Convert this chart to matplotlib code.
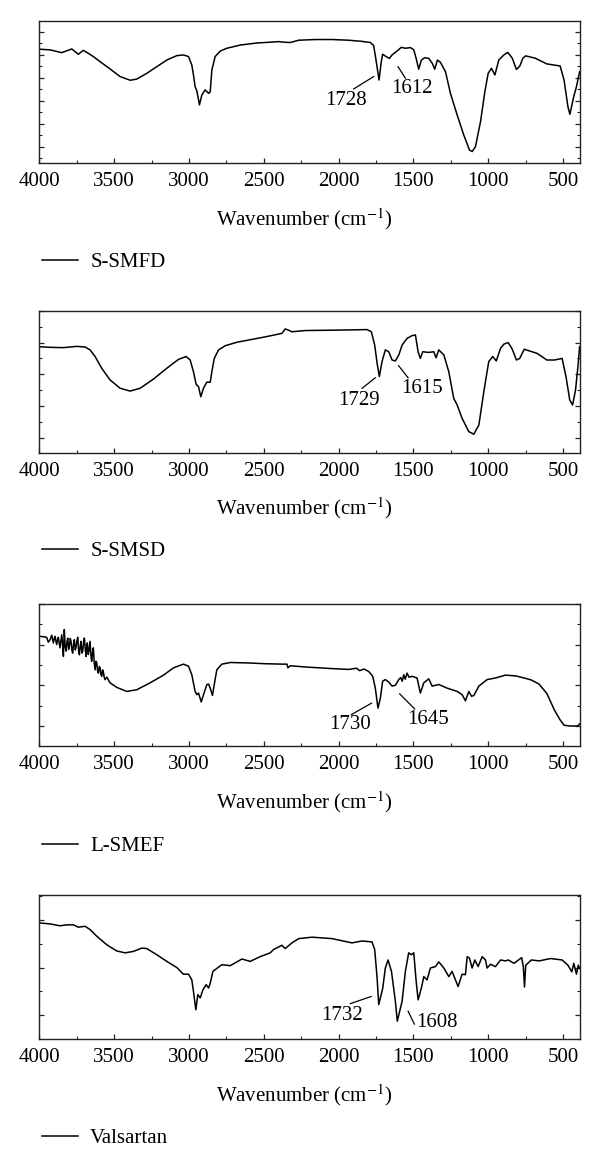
import matplotlib
matplotlib.use("Agg")
import matplotlib.pyplot as plt
from matplotlib.ticker import MultipleLocator, NullFormatter

plt.rcParams['font.family'] = ['Liberation Serif', 'DejaVu Serif']
plt.rcParams['mathtext.fontset'] = 'stix'

# ---- FTIR spectra (wavenumber cm-1, transmittance a.u.) ----
smfd_wn = [4000, 3928, 3850, 3783, 3739, 3706, 3672, 3639, 3594, 3527, 3460, 3393, 3349, 3282,
           3215, 3148, 3081, 3037, 3003, 2981, 2970, 2959, 2947, 2930, 2914, 2892, 2869, 2858,
           2847, 2825, 2791, 2747, 2657, 2546, 2490, 2401, 2357, 2323, 2267, 2156, 2044, 1933,
           1844, 1788, 1766, 1752, 1730, 1715, 1706, 1683, 1661, 1643, 1610, 1581, 1554, 1520,
           1498, 1482, 1465, 1447, 1425, 1398, 1375, 1358, 1340, 1320, 1286, 1253, 1208, 1164,
           1126, 1108, 1086, 1052, 1023, 1001, 979, 956, 930, 896, 870, 840, 812, 790, 769, 751,
           687, 609, 520, 494, 468, 455, 429, 411, 390]
smfd_t = [52.4, 52.1, 50.9, 52.5, 50.2, 51.9, 50.6, 49.2, 47.0, 43.8, 40.5, 38.9, 39.4, 41.9,
          44.8, 47.7, 49.6, 49.9, 49.2, 45.5, 41.2, 36.1, 34.2, 28.2, 32.5, 34.7, 33.2, 33.9,
          43.4, 49.2, 51.6, 52.8, 54.2, 55.1, 55.3, 55.7, 55.4, 55.3, 56.3, 56.6, 56.6, 56.3,
          55.8, 55.3, 54.0, 48.4, 39.0, 47.0, 50.2, 49.2, 48.4, 49.9, 51.6, 53.2, 52.8, 53.1,
          52.1, 48.4, 43.7, 47.7, 48.7, 48.4, 46.3, 43.7, 47.7, 46.7, 42.6, 33.2, 23.8, 15.1,
          8.6, 7.9, 10.0, 20.9, 33.9, 41.9, 44.1, 41.2, 47.7, 49.9, 51.0, 48.5, 43.6, 45.0, 48.5, 49.5,
          48.5, 46.0, 45.1, 39.0, 27.4, 24.1, 31.8, 36.1, 42.6]

smsd_wn = [4000, 3928, 3839, 3750, 3694, 3661, 3627, 3583, 3527, 3460, 3393, 3326, 3237, 3148,
           3070, 3019, 2992, 2970, 2952, 2936, 2921, 2903, 2881, 2858, 2847, 2831, 2802, 2758,
           2680, 2546, 2490, 2379, 2357, 2334, 2312, 2223, 2044, 1911, 1810, 1781, 1759, 1743,
           1728, 1710, 1688, 1665, 1643, 1621, 1598, 1576, 1543, 1509, 1487, 1469, 1454, 1438,
           1398, 1364, 1349, 1331, 1297, 1264, 1231, 1208, 1175, 1130, 1097, 1063, 1030, 997,
           970, 947, 918, 896, 867, 841, 812, 790, 760, 674, 609, 558, 507, 481, 456, 437, 417,
           400, 390]
smsd_t = [38.7, 38.5, 38.4, 38.8, 38.6, 37.7, 35.6, 31.9, 28.2, 25.6, 24.7, 25.6, 28.5, 31.9,
          34.7, 35.6, 34.5, 30.8, 26.8, 26.1, 22.9, 25.6, 27.5, 27.5, 30.8, 35.0, 37.7, 39.0,
          40.1, 41.3, 41.8, 42.9, 44.3, 43.9, 43.4, 43.8, 43.9, 44.0, 44.1, 43.4, 39.2, 33.5,
          29.3, 34.0, 37.7, 37.1, 34.5, 34.2, 36.1, 39.2, 41.3, 42.2, 42.4, 37.1, 35.0, 37.1,
          36.9, 37.1, 35.2, 37.7, 36.1, 30.8, 22.4, 20.3, 16.1, 11.9, 11.1, 14.0, 24.5, 34.0,
          35.6, 34.2, 38.2, 39.5, 40.0, 38.0, 34.5, 35.0, 37.9, 36.6, 34.5, 34.5, 35.0, 29.3,
          21.9, 20.3, 25.1, 33.0, 38.7]

smef_wn = [4000, 3984, 3951, 3940, 3928, 3917, 3906, 3900, 3895, 3884, 3878, 3873, 3862, 3856,
           3850, 3844, 3839, 3833, 3827, 3821, 3815, 3810, 3804, 3799, 3793, 3788, 3782, 3777,
           3771, 3766, 3760, 3755, 3749, 3743, 3737, 3732, 3726, 3721, 3715, 3710, 3704, 3699,
           3693, 3688, 3683, 3679, 3673, 3668, 3664, 3661, 3655, 3650, 3644, 3639, 3633, 3627,
           3621, 3616, 3610, 3605, 3599, 3594, 3588, 3583, 3577, 3572, 3566, 3561, 3549, 3527,
           3483, 3416, 3349, 3260, 3170, 3103, 3037, 3003, 2981, 2959, 2947, 2936, 2918, 2903,
           2880, 2869, 2858, 2843, 2831, 2814, 2780, 2724, 2613, 2490, 2379, 2345, 2339, 2323,
           2223, 2044, 1933, 1880, 1860, 1844, 1830, 1799, 1772, 1755, 1737, 1721, 1706, 1688,
           1665, 1643, 1621, 1598, 1585, 1575, 1565, 1555, 1543, 1530, 1509, 1476, 1454, 1431,
           1398, 1375, 1331, 1275, 1208, 1175, 1153, 1130, 1112, 1097, 1063, 1008, 952, 885, 815,
           740, 712, 661, 609, 558, 520, 494, 455, 404, 390]
smef_t = [32.0, 32.0, 31.8, 30.6, 31.2, 32.3, 30.4, 31.5, 32.0, 30.0, 31.2, 31.8, 29.2, 30.9,
          32.4, 29.8, 27.1, 33.7, 29.5, 28.4, 30.7, 31.6, 28.8, 29.6, 31.5, 30.8, 28.6, 27.9,
          30.3, 31.2, 28.7, 29.2, 30.9, 31.8, 28.3, 27.5, 29.8, 30.8, 27.9, 28.4, 30.5, 31.6,
          28.9, 27.1, 29.4, 30.4, 27.6, 28.4, 29.9, 30.8, 27.3, 25.9, 28.1, 29.2, 25.6, 23.8,
          25.9, 25.5, 23.4, 23.0, 24.6, 24.3, 22.6, 22.2, 23.8, 23.3, 21.9, 21.4, 22.0, 20.6,
          19.5, 18.5, 18.9, 20.6, 22.5, 24.3, 25.2, 24.7, 22.6, 18.5, 17.7, 18.1, 15.9, 17.7,
          20.2, 20.3, 19.3, 17.5, 20.2, 23.8, 25.2, 25.6, 25.5, 25.3, 25.2, 25.2, 24.3, 24.8,
          24.5, 24.1, 23.9, 24.2, 23.6, 23.8, 24.0, 23.4, 22.2, 19.3, 14.4, 16.9, 21.0, 21.4,
          20.8, 19.8, 20.0, 21.4, 21.9, 21.0, 22.6, 21.5, 23.0, 22.0, 22.2, 21.8, 18.1, 20.6,
          21.6, 19.8, 20.2, 19.3, 18.5, 17.7, 16.2, 18.5, 17.3, 17.5, 19.8, 21.4, 21.8, 22.5,
          22.3, 21.6, 21.3, 20.3, 18.0, 13.9, 11.5, 10.2, 10.0, 10.0, 10.5]

vals_wn = [4000, 3928, 3862, 3817, 3772, 3739, 3694, 3661, 3616, 3549, 3483, 3427, 3371, 3315,
           3282, 3215, 3148, 3081, 3037, 3003, 2981, 2970, 2954, 2941, 2925, 2907, 2885, 2869,
           2858, 2840, 2780, 2724, 2646, 2591, 2524, 2457, 2435, 2379, 2357, 2312, 2267, 2178,
           2044, 1911, 1844, 1777, 1759, 1743, 1732, 1705, 1688, 1670, 1647, 1621, 1608, 1576,
           1554, 1532, 1514, 1498, 1482, 1469, 1447, 1431, 1409, 1387, 1353, 1331, 1297, 1264,
           1242, 1202, 1175, 1153, 1141, 1126, 1108, 1090, 1068, 1041, 1019, 1008, 985, 952,
           918, 885, 867, 828, 777, 766, 758, 750, 712, 661, 584, 507, 468, 442, 429, 411, 399,
           390]
vals_t = [29.4, 29.2, 28.8, 29.0, 29.0, 28.5, 28.7, 28.0, 26.6, 24.8, 23.5, 23.1, 23.4, 24.1,
          24.0, 22.7, 21.3, 20.0, 18.6, 18.6, 17.4, 15.0, 11.1, 14.3, 13.6, 15.3, 16.4, 15.7,
          16.7, 19.2, 20.6, 20.4, 21.8, 21.3, 22.3, 23.1, 23.8, 24.7, 24.0, 25.2, 26.1, 26.4,
          26.1, 25.2, 25.6, 25.4, 23.8, 17.8, 12.2, 15.7, 19.9, 21.6, 19.2, 12.9, 8.7, 12.9,
          19.2, 23.1, 22.7, 23.1, 17.1, 13.2, 15.7, 18.1, 17.4, 19.9, 20.2, 21.2, 19.9, 18.1,
          19.2, 16.0, 18.6, 18.5, 22.3, 22.0, 19.9, 21.6, 20.2, 22.3, 21.6, 19.9, 20.7, 20.2,
          21.6, 21.4, 21.6, 20.9, 22.1, 20.2, 15.9, 20.5, 21.6, 21.4, 21.9, 21.6, 20.5, 19.1,
          20.9, 18.6, 20.5, 19.8]

# peak labels: text, text position, leader line (two ends)
smfd_peaks = ["1728", "1612"]
smfd_text_xy = [(1951, 30.0), (1509, 35.4)]
smfd_lines = [((1900, 35.1), (1766, 40.5)), ((1603, 44.8), (1554, 39.8))]

smsd_peaks = ["1729", "1615"]
smsd_text_xy = [(1866, 21.6), (1442, 25.4)]
smsd_lines = [((1843, 25.6), (1755, 28.9)), ((1599, 32.7), (1536, 28.9))]

smef_peaks = ["1730", "1645"]
smef_text_xy = [(1922, 10.3), (1400, 11.5)]
smef_lines = [((1915, 12.8), (1781, 15.6)), ((1592, 17.9), (1492, 14.2))]

vals_peaks = ["1732", "1608"]
vals_text_xy = [(1977, 9.8), (1346, 8.4)]
vals_lines = [((1922, 12.4), (1783, 13.9)), ((1536, 10.8), (1494, 8.1))]

names = ["S-SMFD", "S-SMSD", "L-SMEF", "Valsartan"]

panels = [
    (smfd_wn, smfd_t, (2.8, 64.8), smfd_peaks, smfd_text_xy, smfd_lines),
    (smsd_wn, smsd_t, (5.27, 50.07), smsd_peaks, smsd_text_xy, smsd_lines),
    (smef_wn, smef_t, (5.16, 40.05), smef_peaks, smef_text_xy, smef_lines),
    (vals_wn, vals_t, (5.0, 35.2), vals_peaks, vals_text_xy, vals_lines),
]

# axes boxes in figure fraction (left, bottom, width, height)
boxes = [
    [0.0655, 0.8609, 0.9005, 0.1215],
    [0.0655, 0.6144, 0.9005, 0.1210],
    [0.0655, 0.3648, 0.9005, 0.1210],
    [0.0655, 0.1152, 0.9005, 0.1221],
]
legend_y = [0.7768, 0.5301, 0.2788, 0.0304]
xlabel_y = [-0.388, -0.392, -0.394, -0.392]

fig = plt.figure(figsize=(6.0, 11.74), dpi=100)
fs = 15

for i, (wn, t, ylim, peaks, txy, segs) in enumerate(panels):
    ax = fig.add_axes(boxes[i])
    line, = ax.plot(wn, t, color='black', linewidth=1.1, label=names[i])
    ax.set_xlim(4000, 390)
    ax.set_ylim(*ylim)

    ax.xaxis.set_major_locator(MultipleLocator(500))
    ax.xaxis.set_minor_locator(MultipleLocator(250))
    ax.yaxis.set_major_locator(MultipleLocator(10))
    ax.yaxis.set_minor_locator(MultipleLocator(5))
    ax.yaxis.set_major_formatter(NullFormatter())
    ax.tick_params(axis='x', which='both', direction='in', top=False, bottom=True,
                   labelsize=fs, pad=6.5)
    ax.tick_params(axis='y', which='both', direction='in', left=True, right=True)
    ax.tick_params(which='major', length=3.5, width=0.9, color='#222222')
    ax.tick_params(which='minor', length=2.0, width=0.8, color='#222222')
    for sp in ax.spines.values():
        sp.set_linewidth(1.0)
        sp.set_color('#222222')

    ax.set_xlabel("Wavenumber (cm$^{-1}$)", fontsize=fs, va='center')
    ax.xaxis.set_label_coords(0.49, xlabel_y[i])

    for lab, (tx, ty), ((x0, y0), (x1, y1)) in zip(peaks, txy, segs):
        ax.text(tx, ty, lab, fontsize=fs, ha='center', va='center')
        ax.plot([x0, x1], [y0, y1], color='black', linewidth=0.9)

    ax.legend(handles=[line], loc='center left', bbox_to_anchor=(0.0705, legend_y[i]),
              bbox_transform=fig.transFigure, frameon=False, fontsize=fs,
              handlelength=1.7, handletextpad=0.6, borderpad=0, borderaxespad=0)

fig.savefig("out.png", dpi=100)
